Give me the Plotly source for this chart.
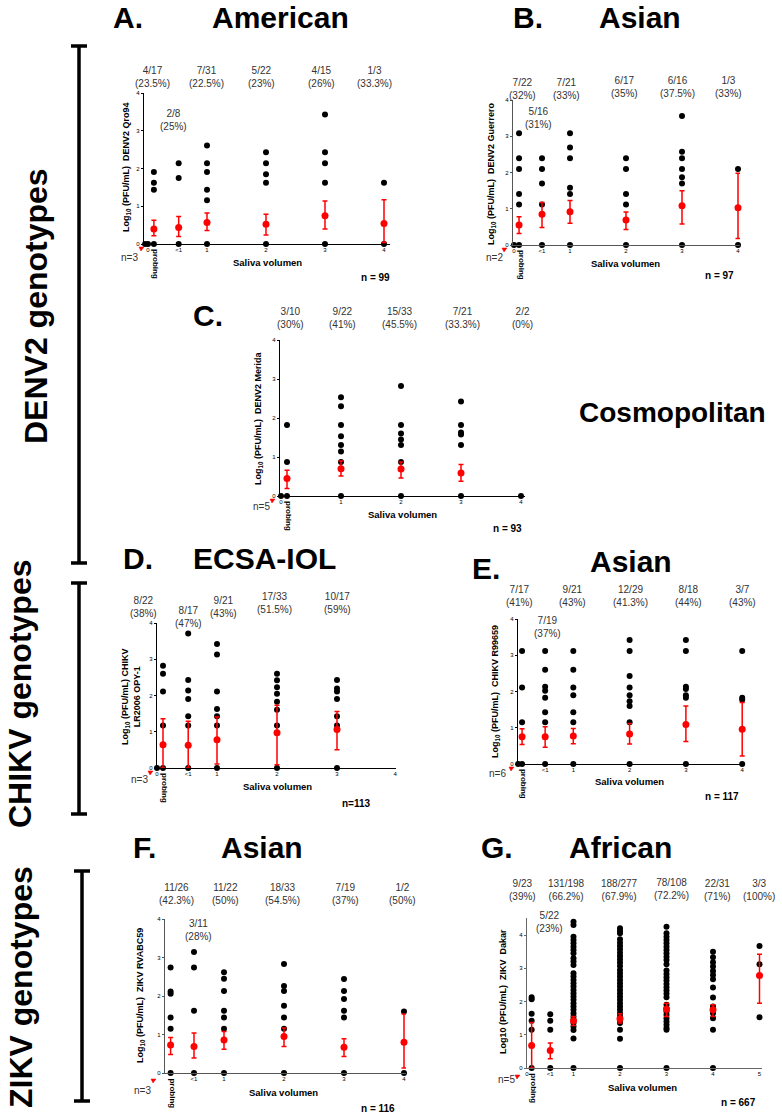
import plotly.graph_objects as go

W, H = 782, 1118
FONT = "Liberation Sans, Arial, Helvetica, sans-serif"

# ------------------------------------------------------------------ data
A_cats = ["probing", "<1", "1", "2", "3", "4"]
A_pos = [[1.91, 1.62, 1.44], [2.14, 1.75], [2.61, 2.14, 1.91, 1.44, 1.16],
         [2.43, 2.14, 1.85, 1.62], [3.43, 2.43, 2.14, 1.62], [1.62]]
A_mean = [0.40, 0.44, 0.57, 0.52, 0.75, 0.54]
A_lo = [0.22, 0.20, 0.36, 0.24, 0.40, 0.04]
A_hi = [0.63, 0.73, 0.82, 0.79, 1.14, 1.17]
A_frac = ["4/17", "2/8", "7/31", "5/22", "4/15", "1/3"]
A_pct = ["(23.5%)", "(25%)", "(22.5%)", "(23%)", "(26%)", "(33.3%)"]
A_den = [17, 8, 31, 22, 15, 3]

B_cats = ["probing", "<1", "1", "2", "3", "4"]
B_pos = [[3.08, 2.39, 2.10, 1.41, 1.12], [2.39, 2.10, 1.70, 1.12],
         [3.08, 2.69, 2.39, 1.58, 1.41], [2.39, 2.10, 1.41, 1.12],
         [3.56, 2.57, 2.39, 2.10, 1.87, 1.70], [2.10]]
B_mean = [0.55, 0.85, 0.92, 0.69, 1.08, 1.03]
B_lo = [0.32, 0.48, 0.60, 0.43, 0.58, 0.18]
B_hi = [0.78, 1.17, 1.23, 0.91, 1.50, 1.98]
B_frac = ["7/22", "5/16", "7/21", "6/17", "6/16", "1/3"]
B_pct = ["(32%)", "(31%)", "(33%)", "(35%)", "(37.5%)", "(33%)"]
B_den = [22, 16, 21, 17, 16, 3]

C_cats = ["probing", "1", "2", "3", "4"]
C_pos = [[1.82, 0.87], [2.53, 2.30, 1.82, 1.53, 1.31, 1.14, 0.87],
         [2.82, 1.82, 1.60, 1.45, 1.31, 0.87], [2.42, 1.82, 1.63, 1.58, 1.31], []]
C_mean = [0.45, 0.70, 0.69, 0.59, None]
C_lo = [0.19, 0.51, 0.46, 0.38, None]
C_hi = [0.66, 0.90, 0.87, 0.81, None]
C_frac = ["3/10", "9/22", "15/33", "7/21", "2/2"]
C_pct = ["(30%)", "(41%)", "(45.5%)", "(33.3%)", "(0%)"]
C_den = [10, 22, 33, 21, 2]

D_cats = ["probing", "<1", "1", "2", "3"]
D_pos = [[2.82, 2.60, 2.11, 1.17], [3.71, 2.43, 2.14, 1.90, 1.43, 1.17],
         [3.42, 3.13, 2.11, 1.63, 1.43, 1.17],
         [2.60, 2.42, 2.23, 2.05, 1.83, 1.61, 1.17],
         [2.43, 2.19, 2.11, 1.90, 1.43, 1.17]]
D_mean = [0.64, 0.63, 0.78, 0.97, 1.06]
D_lo = [0.00, 0.00, 0.11, 0.09, 0.50]
D_hi = [1.36, 1.29, 1.41, 1.73, 1.56]
D_frac = ["8/22", "8/17", "9/21", "17/33", "10/17"]
D_pct = ["(38%)", "(47%)", "(43%)", "(51.5%)", "(59%)"]
D_den = [22, 17, 21, 33, 17]

E_cats = ["probing", "<1", "1", "2", "3", "4"]
E_pos = [[3.12, 2.11, 1.15], [3.12, 2.60, 2.13, 2.02, 1.83, 1.43, 1.15],
         [3.12, 2.60, 2.11, 1.90, 1.43, 1.15],
         [3.42, 3.12, 2.43, 2.11, 1.90, 1.73, 1.60, 1.15],
         [3.42, 3.12, 2.13, 2.07, 1.90, 1.83], [3.12, 1.83, 1.77]]
E_mean = [0.75, 0.75, 0.77, 0.83, 1.09, 0.96]
E_lo = [0.54, 0.46, 0.56, 0.55, 0.62, 0.22]
E_hi = [0.97, 1.03, 0.98, 1.12, 1.60, 1.70]
E_frac = ["7/17", "7/19", "9/21", "12/29", "8/18", "3/7"]
E_pct = ["(41%)", "(37%)", "(43%)", "(41.3%)", "(44%)", "(43%)"]
E_den = [17, 19, 21, 29, 18, 7]

F_cats = ["probing", "<1", "1", "2", "3", "4"]
F_pos = [[2.74, 2.12, 2.06, 1.44, 1.15], [3.14, 2.74, 1.62],
         [2.62, 2.45, 2.13, 1.62, 1.44, 1.15],
         [2.83, 2.26, 2.13, 1.75, 1.44, 1.15],
         [2.44, 2.13, 1.92, 1.62, 1.44], [1.60]]
F_mean = [0.73, 0.69, 0.86, 0.95, 0.67, 0.80]
F_lo = [0.48, 0.39, 0.62, 0.69, 0.43, 0.13]
F_hi = [0.92, 1.04, 1.08, 1.17, 0.89, 1.53]
F_frac = ["11/26", "3/11", "11/22", "18/33", "7/19", "1/2"]
F_pct = ["(42.3%)", "(28%)", "(50%)", "(54.5%)", "(37%)", "(50%)"]
F_den = [26, 11, 22, 33, 19, 2]

G_cats = ["probing", "<1", "1", "2", "3", "4", "5"]
G_pos = [
    [2.13, 2.07, 1.63, 1.42, 1.15],
    [1.62, 1.42, 1.15],
    [4.40, 4.30, 3.95, 3.85, 3.75, 3.65, 3.55, 3.45, 3.30, 3.20, 3.10, 2.85, 2.75,
     2.65, 2.55, 2.45, 2.35, 2.25, 2.15, 2.05, 1.95, 1.85, 1.75, 1.65, 1.55, 1.45,
     1.35, 1.25, 1.14, 0.89],
    [4.20, 4.12, 4.05, 3.87, 3.77, 3.67, 3.57, 3.47, 3.37, 3.27, 3.17, 3.07, 2.95,
     2.85, 2.75, 2.65, 2.55, 2.45, 2.35, 2.25, 2.15, 2.05, 1.95, 1.85, 1.75, 1.65,
     1.55, 1.45, 1.35, 1.15, 0.88],
    [4.25, 4.05, 3.95, 3.85, 3.75, 3.65, 3.55, 3.45, 3.35, 3.25, 3.12, 2.93, 2.83,
     2.73, 2.63, 2.53, 2.43, 2.33, 2.23, 2.13, 1.90, 1.80, 1.70, 1.60, 1.50, 1.40,
     1.30, 1.20, 1.15],
    [3.50, 3.33, 3.18, 3.05, 2.92, 2.80, 2.67, 2.42, 2.12, 1.85, 1.65, 1.50, 1.15],
    [3.67, 3.12, 1.53]]
G_mean = [0.68, 0.53, 1.42, 1.48, 1.77, 1.75, 2.78]
G_lo = [0.00, 0.28, 1.28, 1.35, 1.55, 1.55, 1.95]
G_hi = [1.37, 0.75, 1.55, 1.63, 1.95, 1.90, 3.42]
G_frac = ["9/23", "5/22", "131/198", "188/277", "78/108", "22/31", "3/3"]
G_pct = ["(39%)", "(23%)", "(66.2%)", "(67.9%)", "(72.2%)", "(71%)", "(100%)"]
G_den = [23, 22, 198, 277, 108, 31, 3]

Y_TICKS = [0, 1, 2, 3, 4]
NBSP = "\u00a0"

# ------------------------------------------------------------------ panel configs
panels = [
    dict(letter="A.", title="American", cats=A_cats, pos=A_pos, mean=A_mean, lo=A_lo, hi=A_hi,
         frac=A_frac, pct=A_pct, den=A_den, ylabel="Log<sub>10</sub> (PFU/mL)" + NBSP * 2 + "DENV2 Qro94",
         ntext="n = 99", n0="n=3", line="black", extra_ticks=[],
         axl=144, x0=148, ppu=59, axr=390, ytop=93, y0=244, ymax=4,
         catx=[0.1, 0.52, 1, 2, 3, 4], labx=[0.08, 0.44, 0.99, 1.93, 2.94, 3.84],
         laby=[77, 120, 77, 77, 77, 77], zx=[-0.05, 0.0],
         letpos=(128, 18), titpos=(280, 18), ylabpos=(126, 167),
         salpos=(267, 262), npos=(375, 277), n0pos=(129, 257), tri=(142, 249)),
    dict(letter="B.", title="Asian", cats=B_cats, pos=B_pos, mean=B_mean, lo=B_lo, hi=B_hi,
         frac=B_frac, pct=B_pct, den=B_den, ylabel="Log<sub>10</sub> (PFU/mL)" + NBSP * 2 + "DENV2 Guerrero",
         ntext="n = 97", n0="n=2", line="#555", extra_ticks=[],
         axl=513, x0=514, ppu=56, axr=740, ytop=100, y0=245, ymax=4,
         catx=[0.09, 0.5, 1, 2, 3, 4], labx=[0.15, 0.43, 0.94, 1.97, 2.92, 3.83],
         laby=[89, 118, 89, 87, 87, 87], zx=[-0.06, 0.0],
         letpos=(528, 18), titpos=(640, 18), ylabpos=(492, 173),
         salpos=(625, 263), npos=(719, 275), n0pos=(494, 257), tri=(505, 250)),
    dict(letter="C.", title="", cats=C_cats, pos=C_pos, mean=C_mean, lo=C_lo, hi=C_hi,
         frac=C_frac, pct=C_pct, den=C_den, ylabel="Log<sub>10</sub> (PFU/mL)" + NBSP * 2 + "DENV2 Merida",
         ntext="n = 93", n0="n=5", line="black", extra_ticks=[],
         axl=280, x0=281, ppu=60, axr=525, ytop=340, y0=496, ymax=4,
         catx=[0.1, 1, 2, 3, 4], labx=[0.15, 1.02, 1.98, 3.02, 4.03],
         laby=[318, 318, 318, 318, 318], zx=[-0.05, 0.0],
         letpos=(208, 315), titpos=None, ylabpos=(258, 418),
         salpos=(402, 514), npos=(507, 529), n0pos=(261, 507), tri=(273, 501)),
    dict(letter="D.", title="ECSA-IOL", cats=D_cats, pos=D_pos, mean=D_mean, lo=D_lo, hi=D_hi,
         frac=D_frac, pct=D_pct, den=D_den,
         ylabel="Log<sub>10</sub> (PFU/mL) CHIKV<br>LR2006 OPY-1",
         ntext="n=113", n0="n=3", line="black", extra_ticks=[(3.97, "4")],
         axl=157, x0=157, ppu=60, axr=396, ytop=623, y0=768, ymax=4,
         catx=[0.1, 0.52, 1, 2, 3], labx=[-0.23, 0.52, 1.1, 1.95, 3.0],
         laby=[607, 617, 607, 603, 603], zx=[-0.07, 0.0],
         letpos=(138, 558), titpos=(264, 558), ylabpos=(131, 697),
         salpos=(277, 786), npos=(356, 803), n0pos=(139, 779), tri=(151, 773)),
    dict(letter="E.", title="Asian", cats=E_cats, pos=E_pos, mean=E_mean, lo=E_lo, hi=E_hi,
         frac=E_frac, pct=E_pct, den=E_den, ylabel="Log<sub>10</sub> (PFU/mL)" + NBSP * 2 + "CHIKV R99659",
         ntext="n = 117", n0="n=6", line="black", extra_ticks=[],
         axl=518, x0=517, ppu=56.3, axr=745, ytop=619, y0=764, ymax=4,
         catx=[0.09, 0.5, 1, 2, 3, 4], labx=[0.04, 0.55, 0.99, 2.02, 3.04, 4.0],
         laby=[596, 627, 596, 596, 596, 596], zx=[-0.05, 0.02],
         letpos=(486, 568), titpos=(631, 561), ylabpos=(496, 692),
         salpos=(629, 781), npos=(722, 796), n0pos=(497, 773), tri=(512, 769)),
    dict(letter="F.", title="Asian", cats=F_cats, pos=F_pos, mean=F_mean, lo=F_lo, hi=F_hi,
         frac=F_frac, pct=F_pct, den=F_den, ylabel="Log<sub>10</sub> (PFU/mL)" + NBSP * 2 + "ZIKV RVABC59",
         ntext="n = 116", n0="n=3", line="#555", extra_ticks=[],
         axl=165, x0=164, ppu=60, axr=406, ytop=919, y0=1073, ymax=4,
         catx=[0.11, 0.5, 1, 2, 3, 4], labx=[0.2, 0.57, 1.02, 1.98, 3.03, 3.97],
         laby=[894, 930, 894, 894, 894, 894], zx=[-0.17, -0.08],
         letpos=(144, 847), titpos=(262, 847), ylabpos=(140, 996),
         salpos=(283, 1092), npos=(378, 1108), n0pos=(142, 1090), tri=(154, 1081)),
    dict(letter="G.", title="African", cats=G_cats, pos=G_pos, mean=G_mean, lo=G_lo, hi=G_hi,
         frac=G_frac, pct=G_pct, den=G_den, ylabel="Log10 (PFU/mL)" + NBSP * 2 + "ZIKV" + NBSP + " Dakar",
         ntext="n = 667", n0="n=5", line="#666", extra_ticks=[],
         axl=527, x0=527, ppu=46.5, axr=762, ytop=918.4, y0=1068, ymax=4.5,
         catx=[0.1, 0.5, 1, 2, 3, 4, 5], labx=[-0.09, 0.49, 0.84, 1.98, 3.1, 4.09, 4.99],
         laby=[890, 922, 890, 890, 889, 890, 890], zx=[-0.09, -0.01],
         letpos=(497, 847), titpos=(620, 847), ylabpos=(503, 992),
         salpos=(642, 1087), npos=(738, 1102), n0pos=(506, 1079), tri=(518, 1077)),
]


def px(x):
    return x / W


def py(y):
    return 1 - y / H


fig = go.Figure()
annotations = []
shapes = []


def ann(text, x, y, size, bold=False, angle=0, color="black", xanchor="center"):
    annotations.append(dict(
        text=("<b>%s</b>" % text) if bold else text, x=px(x), y=py(y), xref="paper", yref="paper",
        showarrow=False, xanchor=xanchor, yanchor="middle", textangle=angle,
        font=dict(family=FONT, size=size, color=color)))


layout_axes = {}
for i, p in enumerate(panels, start=1):
    xa, ya = "x%d" % i, "y%d" % i
    # black dots
    xs, ys = [], []
    for cx, vals, den in zip(p["catx"], p["pos"], p["den"]):
        xs += [cx] * len(vals)
        ys += vals
        if len(vals) < den:
            xs.append(cx)
            ys.append(0)
    xs += p["zx"]
    ys += [0] * len(p["zx"])
    fig.add_trace(go.Scatter(x=xs, y=ys, mode="markers", xaxis=xa, yaxis=ya,
                             marker=dict(color="black", size=6), cliponaxis=False,
                             showlegend=False, hoverinfo="skip"))
    # red mean +/- error
    mx, my, ep, em = [], [], [], []
    for cx, m, lo, hi in zip(p["catx"], p["mean"], p["lo"], p["hi"]):
        if m is None:
            continue
        mx.append(cx)
        my.append(m)
        ep.append(hi - m)
        em.append(m - lo)
    fig.add_trace(go.Scatter(x=mx, y=my, mode="markers", xaxis=xa, yaxis=ya,
                             marker=dict(color="red", size=7),
                             error_y=dict(type="data", symmetric=False, array=ep, arrayminus=em,
                                          color="red", thickness=1.5, width=2.5),
                             cliponaxis=False, showlegend=False, hoverinfo="skip"))
    # axes
    tv = [0] + [cx for c, cx in zip(p["cats"], p["catx"]) if c != "probing"]
    tt = ["0"] + [c for c in p["cats"] if c != "probing"]
    for ev, et in p["extra_ticks"]:
        tv.append(ev)
        tt.append(et)
    xr = [(p["axl"] - p["x0"]) / p["ppu"], (p["axr"] - p["x0"]) / p["ppu"]]
    sfx = "" if i == 1 else str(i)
    layout_axes["xaxis" + sfx] = dict(
        domain=[px(p["axl"]), px(p["axr"])], range=xr, anchor=ya, showline=True,
        linecolor=p["line"], linewidth=1.2, showgrid=False, zeroline=False, automargin=False,
        tickvals=tv, ticktext=tt, ticks="", tickangle=0,
        tickfont=dict(family=FONT, size=6, color="black"), fixedrange=True)
    layout_axes["yaxis" + sfx] = dict(
        domain=[py(p["y0"]), py(p["ytop"])], range=[0, p["ymax"]], anchor=xa, showline=True,
        linecolor=p["line"], linewidth=1.2, showgrid=False, zeroline=False, automargin=False,
        tickvals=Y_TICKS, ticks="outside", ticklen=2, tickwidth=1, tickcolor=p["line"],
        tickfont=dict(family=FONT, size=6, color="black"), fixedrange=True)

    # count labels
    for lx, ly, fr, pc in zip(p["labx"], p["laby"], p["frac"], p["pct"]):
        ann(fr + "<br>" + pc, p["x0"] + lx * p["ppu"], ly, 10, color="#333")
    # probing label
    ann("probing", p["x0"] + p["catx"][0] * p["ppu"] + 2, p["y0"] + 20, 8, bold=True, angle=90)
    # titles
    ann(p["letter"], p["letpos"][0], p["letpos"][1], 30, bold=True)
    if p["titpos"]:
        ann(p["title"], p["titpos"][0], p["titpos"][1], 30, bold=True)
    ann(p["ylabel"], p["ylabpos"][0], p["ylabpos"][1], 9, bold=True, angle=-90)
    ann("Saliva volumen", p["salpos"][0], p["salpos"][1], 9.5, bold=True)
    ann(p["ntext"], p["npos"][0], p["npos"][1], 10, bold=True)
    ann(p["n0"], p["n0pos"][0], p["n0pos"][1], 10, color="#333")
    tx, ty = p["tri"]
    shapes.append(dict(type="path", xref="paper", yref="paper",
                       path="M %f %f L %f %f L %f %f Z" % (px(tx - 3), py(ty - 2), px(tx + 2), py(ty - 2),
                                                          px(tx - 1), py(ty + 2)),
                       fillcolor="red", line=dict(color="red", width=0.5)))

# Cosmopolitan label
ann("Cosmopolitan", 672, 413, 28, bold=True)

# Group labels with brackets
groups = [("DENV2 genotypes", 36, 306, 79, 46, 563),
          ("CHIKV genotypes", 20, 694, 79, 583, 814),
          ("ZIKV genotypes", 21, 987, 82, 871, 1101)]
for txt, tx, ty, bx, btop, bbot in groups:
    ann(txt, tx, ty, 32, bold=True, angle=-90)
    shapes.append(dict(type="line", xref="paper", yref="paper", x0=px(bx), x1=px(bx),
                       y0=py(btop), y1=py(bbot), line=dict(color="black", width=3.5)))
    for yy in (btop, bbot):
        shapes.append(dict(type="line", xref="paper", yref="paper", x0=px(bx - 8), x1=px(bx + 8),
                           y0=py(yy), y1=py(yy), line=dict(color="black", width=3.5)))

fig.update_layout(width=W, height=H, margin=dict(l=0, r=0, t=0, b=0, pad=0, autoexpand=False),
                  paper_bgcolor="white", plot_bgcolor="white",
                  annotations=annotations, shapes=shapes, showlegend=False,
                  font=dict(family=FONT), **layout_axes)

fig.write_html("out.html", config={"displayModeBar": False},
               post_script="document.body.style.margin='0';document.body.style.overflow='hidden';")
